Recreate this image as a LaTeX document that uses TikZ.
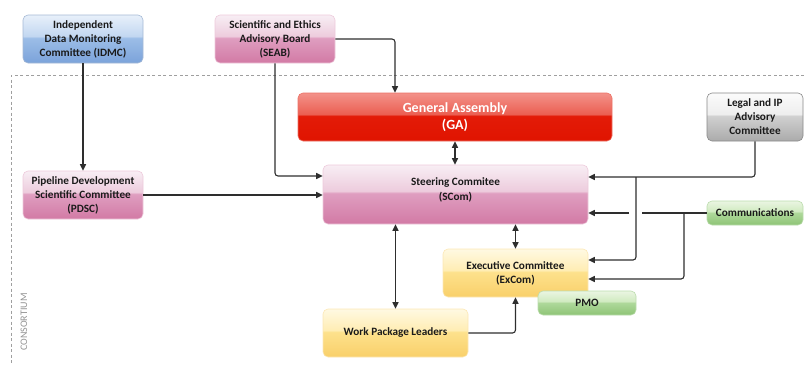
\documentclass[tikz,border=0pt]{standalone}
\usepackage{fontspec}
\setmainfont{Carlito}
\usetikzlibrary{arrows.meta,calc}
\definecolor{gaT}{HTML}{F3928A}\definecolor{gaU}{HTML}{EB5F52}\definecolor{gaL}{HTML}{E31B08}\definecolor{gaB}{HTML}{E01400}
\definecolor{pkT}{HTML}{F8EEF4}\definecolor{pkU}{HTML}{EDCCDD}\definecolor{pkL}{HTML}{DF9EC0}\definecolor{pkB}{HTML}{D27AA5}
\definecolor{blT}{HTML}{E8F0FA}\definecolor{blU}{HTML}{C2D7F1}\definecolor{blL}{HTML}{9CBDE7}\definecolor{blB}{HTML}{7BA3DA}
\definecolor{grT}{HTML}{FBFBFB}\definecolor{grU}{HTML}{EEEEEE}\definecolor{grL}{HTML}{D0D0D0}\definecolor{grB}{HTML}{ABABAB}
\definecolor{gnT}{HTML}{EAF5E2}\definecolor{gnU}{HTML}{D0EAC0}\definecolor{gnL}{HTML}{AFD99B}\definecolor{gnB}{HTML}{8EC476}
\definecolor{ylT}{HTML}{FFF9E2}\definecolor{ylU}{HTML}{FFEDB4}\definecolor{ylL}{HTML}{FDE18C}\definecolor{ylB}{HTML}{F9D06A}
\definecolor{linec}{HTML}{2E2E2E}
\definecolor{txt}{HTML}{1A1A1A}
\pgfdeclareverticalshading{glga}{100bp}{color(0bp)=(gaB); color(25bp)=(gaB); color(51bp)=(gaL); color(53bp)=(gaU); color(75bp)=(gaT); color(100bp)=(gaT)}
\pgfdeclareverticalshading{glpk}{100bp}{color(0bp)=(pkB); color(25bp)=(pkB); color(51bp)=(pkL); color(53bp)=(pkU); color(75bp)=(pkT); color(100bp)=(pkT)}
\pgfdeclareverticalshading{glbl}{100bp}{color(0bp)=(blB); color(25bp)=(blB); color(51bp)=(blL); color(53bp)=(blU); color(75bp)=(blT); color(100bp)=(blT)}
\pgfdeclareverticalshading{glgr}{100bp}{color(0bp)=(grB); color(25bp)=(grB); color(51bp)=(grL); color(53bp)=(grU); color(75bp)=(grT); color(100bp)=(grT)}
\pgfdeclareverticalshading{glgn}{100bp}{color(0bp)=(gnB); color(25bp)=(gnB); color(51bp)=(gnL); color(53bp)=(gnU); color(75bp)=(gnT); color(100bp)=(gnT)}
\pgfdeclareverticalshading{glyl}{100bp}{color(0bp)=(ylB); color(25bp)=(ylB); color(51bp)=(ylL); color(53bp)=(ylU); color(75bp)=(ylT); color(100bp)=(ylT)}
\tikzset{
  box/.style={rectangle, rounded corners=5pt, inner sep=0pt, align=center, text=txt,
    font=\fontsize{11.2}{14}\selectfont\bfseries, line width=0.6pt},
  bluebox/.style={box, shading=glbl, draw=blB!85!black!60},
  pinkbox/.style={box, shading=glpk, draw=pkB!40!white},
  redbox/.style={box, shading=glga, draw=gaB!60!white, text=white, font=\fontsize{14}{17}\selectfont\bfseries},
  graybox/.style={box, shading=glgr, draw=grB!80!black},
  greenbox/.style={box, shading=glgn, draw=gnB!60!white},
  yellowbox/.style={box, shading=glyl, draw=ylB!50!white},
  conn/.style={draw=linec, line width=1.1pt, rounded corners=3pt},
  arr/.style={conn, -{Triangle[length=6.5pt,width=6pt]}},
  darr/.style={conn, {Triangle[length=6.5pt,width=6pt]}-{Triangle[length=6.5pt,width=6pt]}},
  frame/.style={draw=gray!75, dashed, line width=0.8pt, dash pattern=on 3pt off 2.5pt}
}
\begin{document}
\begin{tikzpicture}[x=1pt,y=-1pt]
\useasboundingbox (0,0) rectangle (804,365);
% consortium frame
\draw[frame] (804,75) -- (11,75) -- (11,365);
\node[rotate=90, text=gray!85, font=\fontsize{10}{11}\selectfont] (cons) at (24,322) {CONSORTIUM};
% nodes
\node[bluebox, minimum width=120pt, minimum height=48pt] (idmc) at (83,39) {Independent\\Data Monitoring\\Committee (IDMC)};
\node[pinkbox, minimum width=120pt, minimum height=48pt] (seab) at (275,39) {Scientific and Ethics\\Advisory Board\\(SEAB)};
\node[redbox, minimum width=314pt, minimum height=48pt] (ga) at (455,117) {General Assembly\\(GA)};
\node[graybox, minimum width=96pt, minimum height=48pt] (legal) at (755,117) {Legal and IP\\Advisory\\Committee};
\node[pinkbox, minimum width=120pt, minimum height=48pt] (pdsc) at (83,195) {Pipeline Development\\Scientific Committee\\(PDSC)};
\node[pinkbox, minimum width=265pt, minimum height=59pt, font=\fontsize{11.2}{15}\selectfont\bfseries] (scom) at (455.5,194.5) {Steering Commitee\\(SCom)\\[-4pt]};
\node[greenbox, minimum width=96pt, minimum height=24pt] (comm) at (755,213) {Communications};
\node[yellowbox, minimum width=145pt, minimum height=48pt] (excom) at (515.5,273) {Executive Committee\\(ExCom)};
\node[greenbox, minimum width=98pt, minimum height=24pt] (pmo) at (587,303) {PMO};
\node[yellowbox, minimum width=145pt, minimum height=48pt] (wpl) at (395.5,333) {Work Package Leaders};
% helper coordinates
\coordinate (seabturn) at (395,39);
\coordinate (j1) at (636,177);
\coordinate (j2) at (684,213);
\coordinate (gapR) at (642,213);
\coordinate (gapL) at (629,213);
% connectors
\draw[arr] (idmc.south) -- (pdsc.north -| idmc.south);
\draw[arr] (seab.east) -| (seabturn |- ga.north);
\draw[arr] (seab.south) |- ($(scom.west)+(0,-18.5)$);
\draw[arr] (pdsc.east) -- (pdsc.east -| scom.west);
\draw[darr] (ga.south) -- (ga.south |- scom.north);
\draw[darr] (wpl.north) -- (wpl.north |- scom.south);
\draw[darr] (excom.north) -- (excom.north |- scom.south);
\draw[arr] (legal.south) |- ($(scom.east)+(0,-17.5)$);
\draw[arr] (j1) |- ($(excom.east)+(0,-13)$);
\draw[conn] (comm.west) -- (gapR);
\draw[arr] (gapL) -- ($(scom.east)+(0,18.5)$);
\draw[arr] (j2) |- ($(excom.east)+(0,6)$);
\draw[arr] (wpl.east) -| (excom.south);
\end{tikzpicture}
\end{document}
